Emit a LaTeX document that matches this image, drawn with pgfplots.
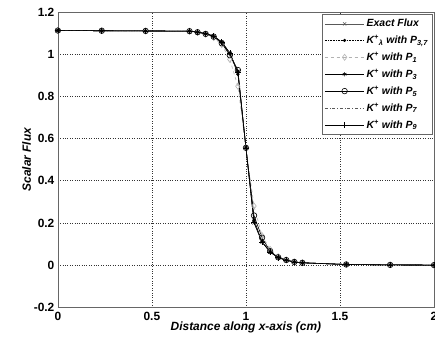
\documentclass[border=0pt]{standalone}
\usepackage{fontspec}
\setmainfont{Liberation Sans}
\usepackage{pgfplots}
\pgfplotsset{compat=1.18}
\begin{document}
\begin{tikzpicture}
\begin{axis}[name=ax,
  scale only axis, width=377bp, height=296bp,
  xmin=0, xmax=2, ymin=-0.2, ymax=1.2,
  xtick={0,0.5,1,1.5,2}, ytick={-0.2,0,0.2,0.4,0.6,0.8,1,1.2},
  xticklabels={0,0.5,1,1.5,2},
  yticklabels={-0.2,0,0.2,0.4,0.6,0.8,1,1.2},
  grid=major, major grid style={black!80, dotted, line width=0.5pt},
  axis line style={gray!80!black, line width=0.6pt},
  tick style={draw=none},
  tick label style={font=\bfseries\fontsize{12}{13}\selectfont},
  xticklabel style={yshift=-1bp},
  xlabel={\bfseries\itshape\fontsize{12}{14}\selectfont Distance along x-axis (cm)},
  ylabel={\bfseries\itshape\fontsize{12}{14}\selectfont Scalar Flux},
  xlabel style={yshift=5bp},
  ylabel style={yshift=-4bp},
  legend style={at={(0.995,0.993)}, anchor=north east, draw=gray!80!black, line width=0.6pt,
    font=\bfseries\itshape\fontsize{10.5}{11}\selectfont, row sep=3.2bp, inner xsep=2bp, inner ysep=3bp},
  legend cell align=left,
  legend image code/.code={\draw[mark repeat=2,mark phase=2] plot coordinates {(0cm,0cm) (0.7cm,0cm) (1.4cm,0cm)};},
]
% Exact
\addplot[gray!70!black, line width=0.6pt, mark=x, mark size=2.2pt, mark options={solid}] coordinates {
(0,1.112) (0.2333,1.111) (0.4667,1.110) (0.7,1.109) (0.7429,1.105) (0.7857,1.098) (0.8286,1.086) (0.8714,1.058) (0.9143,1.006) (0.9571,0.912) (1.0,0.556) (1.0429,0.200) (1.0857,0.109) (1.1286,0.062) (1.1714,0.035) (1.2143,0.023) (1.2571,0.015) (1.3,0.011) (1.5333,0.003) (1.7667,0.001) (2.0,0.000)};
\addlegendentry{Exact Flux}
% K lambda P3,7
\addplot[black, densely dotted, line width=0.6pt, mark=*, mark size=1.3pt, mark options={solid}] coordinates {
(0,1.112) (0.2333,1.111) (0.4667,1.110) (0.7,1.109) (0.7429,1.104) (0.7857,1.097) (0.8286,1.084) (0.8714,1.055) (0.9143,1.002) (0.9571,0.905) (1.0,0.556) (1.0429,0.205) (1.0857,0.112) (1.1286,0.064) (1.1714,0.036) (1.2143,0.024) (1.2571,0.016) (1.3,0.011) (1.5333,0.003) (1.7667,0.001) (2.0,0.000)};
\addlegendentry{K\textsuperscript{+}\textsubscript{λ} with P\textsubscript{3,7}}
% P1
\addplot[gray!60, dashed, line width=0.6pt, mark=diamond, mark size=3pt, mark options={solid}] coordinates {
(0,1.112) (0.2333,1.111) (0.4667,1.110) (0.7,1.109) (0.7429,1.103) (0.7857,1.094) (0.8286,1.078) (0.8714,1.045) (0.9143,0.975) (0.9571,0.848) (1.0,0.556) (1.0429,0.280) (1.0857,0.140) (1.1286,0.075) (1.1714,0.040) (1.2143,0.025) (1.2571,0.016) (1.3,0.011) (1.5333,0.003) (1.7667,0.001) (2.0,0.000)};
\addlegendentry{K\textsuperscript{+} with P\textsubscript{1}}
% P3
\addplot[black, line width=0.6pt, mark=asterisk, mark size=2.2pt] coordinates {
(0,1.112) (0.2333,1.111) (0.4667,1.110) (0.7,1.109) (0.7429,1.104) (0.7857,1.097) (0.8286,1.085) (0.8714,1.056) (0.9143,1.004) (0.9571,0.920) (1.0,0.556) (1.0429,0.215) (1.0857,0.110) (1.1286,0.063) (1.1714,0.036) (1.2143,0.023) (1.2571,0.015) (1.3,0.011) (1.5333,0.003) (1.7667,0.001) (2.0,0.000)};
\addlegendentry{K\textsuperscript{+} with P\textsubscript{3}}
% P5
\addplot[black, line width=0.6pt, mark=o, mark size=2.8pt] coordinates {
(0,1.112) (0.2333,1.111) (0.4667,1.110) (0.7,1.109) (0.7429,1.104) (0.7857,1.096) (0.8286,1.083) (0.8714,1.052) (0.9143,0.995) (0.9571,0.925) (1.0,0.556) (1.0429,0.235) (1.0857,0.130) (1.1286,0.066) (1.1714,0.037) (1.2143,0.024) (1.2571,0.015) (1.3,0.011) (1.5333,0.003) (1.7667,0.001) (2.0,0.000)};
\addlegendentry{K\textsuperscript{+} with P\textsubscript{5}}
% P7
\addplot[gray!70!black, dash dot, line width=0.6pt] coordinates {
(0,1.112) (0.2333,1.111) (0.4667,1.110) (0.7,1.109) (0.7429,1.104) (0.7857,1.097) (0.8286,1.085) (0.8714,1.056) (0.9143,1.004) (0.9571,0.915) (1.0,0.556) (1.0429,0.205) (1.0857,0.110) (1.1286,0.063) (1.1714,0.035) (1.2143,0.023) (1.2571,0.015) (1.3,0.011) (1.5333,0.003) (1.7667,0.001) (2.0,0.000)};
\addlegendentry{K\textsuperscript{+} with P\textsubscript{7}}
% P9
\addplot[black, line width=0.6pt, mark=+, mark size=2.8pt] coordinates {
(0,1.112) (0.2333,1.111) (0.4667,1.110) (0.7,1.109) (0.7429,1.105) (0.7857,1.098) (0.8286,1.086) (0.8714,1.057) (0.9143,1.005) (0.9571,0.912) (1.0,0.556) (1.0429,0.202) (1.0857,0.109) (1.1286,0.062) (1.1714,0.035) (1.2143,0.023) (1.2571,0.015) (1.3,0.011) (1.5333,0.003) (1.7667,0.001) (2.0,0.000)};
\addlegendentry{K\textsuperscript{+} with P\textsubscript{9}}
\end{axis}
\pgfresetboundingbox
\path[use as bounding box] ([xshift=-58bp,yshift=-42bp]ax.south west) rectangle ([xshift=1bp,yshift=12bp]ax.north east);
\end{tikzpicture}
\end{document}
